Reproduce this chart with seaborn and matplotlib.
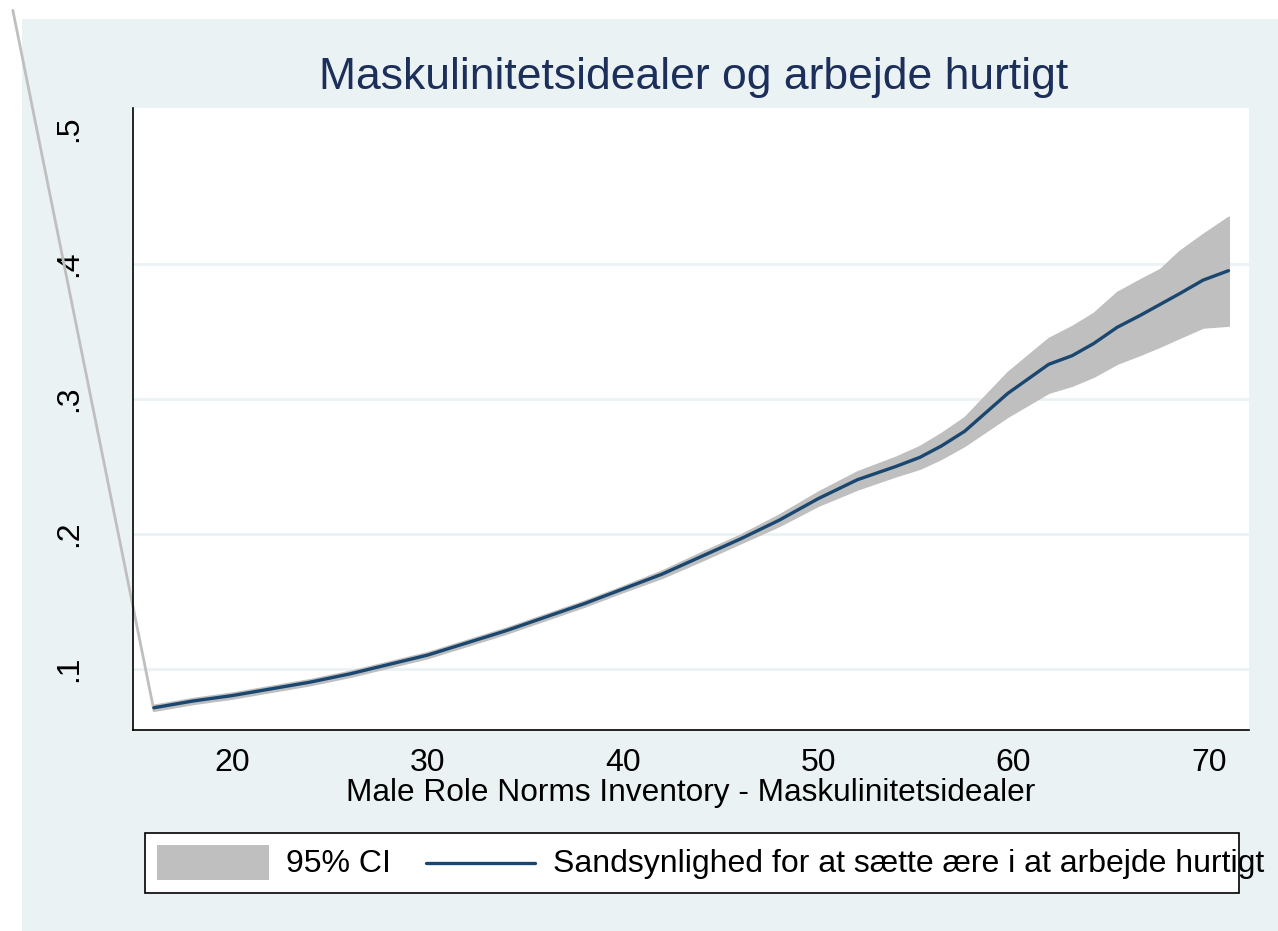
import matplotlib
matplotlib.use("Agg")
import matplotlib.pyplot as plt
from matplotlib.patches import Rectangle
from matplotlib.lines import Line2D
import numpy as np
import pandas as pd
import seaborn as sns

sns.set_style("white")
plt.rcParams['font.family'] = ['Liberation Sans', 'DejaVu Sans']
plt.rcParams['text.color'] = 'black'

# MRNI score (x) and predicted probability with 95% CI
mrni = [16, 17, 18, 19, 20, 22, 24, 26, 28, 30, 32, 34, 36, 38, 40, 42, 44, 46, 48,
        50, 52, 54, 55.2, 56.3, 57.5, 59.7, 61.8, 63, 64.1, 65.3, 66.5, 67.5, 68.5,
        69.7, 71]
prob = [0.071, 0.0735, 0.076, 0.078, 0.080, 0.085, 0.090, 0.096, 0.103, 0.110,
        0.119, 0.128, 0.138, 0.148, 0.159, 0.170, 0.183, 0.196, 0.210, 0.226,
        0.240, 0.250, 0.2566, 0.265, 0.276, 0.304, 0.3256, 0.332, 0.341, 0.353,
        0.362, 0.370, 0.378, 0.388, 0.395]
ci_lo = [0.069, 0.0715, 0.074, 0.076, 0.078, 0.083, 0.088, 0.094, 0.101, 0.108,
         0.117, 0.126, 0.136, 0.146, 0.157, 0.1675, 0.180, 0.193, 0.206, 0.221,
         0.233, 0.243, 0.2484, 0.2558, 0.2655, 0.287, 0.3048, 0.310, 0.3167,
         0.3263, 0.333, 0.339, 0.3455, 0.3531, 0.3545]
ci_hi = [0.073, 0.0755, 0.078, 0.080, 0.082, 0.087, 0.092, 0.098, 0.105, 0.112,
         0.121, 0.130, 0.140, 0.150, 0.161, 0.1725, 0.186, 0.199, 0.214, 0.231,
         0.246, 0.257, 0.2648, 0.2744, 0.2863, 0.3197, 0.3449, 0.3538, 0.3635,
         0.379, 0.3885, 0.396, 0.4095, 0.422, 0.4347]
# stray edge of the CI polygon that runs out of the plot (Stata artefact)
stray_x = [16, 8.78]
stray_y = [0.069, 0.588]

xticks = [20, 30, 40, 50, 60, 70]
yticks = [0.1, 0.2, 0.3, 0.4, 0.5]
ylabels = [".1", ".2", ".3", ".4", ".5"]

title = "Maskulinitetsidealer og arbejde hurtigt"
xlabel = "Male Role Norms Inventory - Maskulinitetsidealer"
leg_ci = "95% CI"
leg_line = "Sandsynlighed for at sætte ære i at arbejde hurtigt"

bg = "#EAF2F3"
navy = "#1A476F"
ci_col = "#BFBFBF"

W, H = 1278, 931
fig = plt.figure(figsize=(W / 100, H / 100), dpi=100)
fig.patch.set_facecolor("white")

def fx(px):
    return px / W

def fy(py):
    return 1 - py / H

# graph region
fig.add_artist(Rectangle((fx(22), 0), 1 - fx(22), fy(19), transform=fig.transFigure,
                         facecolor=bg, edgecolor="none", zorder=-5))

ax = fig.add_axes([fx(133), fy(730), fx(1249) - fx(133), fy(108) - fy(730)])
ax.set_facecolor("white")

df = pd.DataFrame({"x": mrni, "p": prob, "lo": ci_lo, "hi": ci_hi})

for t in yticks[:-1]:
    ax.axhline(t, color=bg, lw=2, zorder=0)

ax.fill_between(df["x"], df["lo"], df["hi"], color=ci_col, edgecolor=ci_col,
                lw=1.5, zorder=1)
ax.plot(stray_x, stray_y, color=ci_col, lw=2, clip_on=False, zorder=1)
sns.lineplot(data=df, x="x", y="p", ax=ax, color=navy, lw=2.4, zorder=2)

ax.set_xlim(14.93, 72.05)
ax.set_ylim(0.0545, 0.5156)
ax.set_xticks(xticks)
ax.set_yticks(yticks)
ax.set_yticklabels(ylabels, rotation=90, va="center")
ax.tick_params(axis="both", direction="out", length=8, width=1.2, color="black",
               labelsize=23, labelcolor="black")
ax.tick_params(axis="x", pad=5)
ax.tick_params(axis="y", pad=27)
for s in ["top", "right"]:
    ax.spines[s].set_visible(False)
for s in ["left", "bottom"]:
    ax.spines[s].set_color("black")
    ax.spines[s].set_linewidth(1.2)
ax.set_xlabel(xlabel, fontsize=22.8, labelpad=0, color="black")
ax.set_ylabel("")

fig.text(fx(694), fy(78), title, ha="center", va="center", fontsize=32,
         color="#1C2E5A")

# legend box
fig.add_artist(Rectangle((fx(145), fy(893)), fx(1239) - fx(145), fy(833) - fy(893),
                         transform=fig.transFigure, facecolor="white",
                         edgecolor="black", lw=1.2, zorder=3))
fig.add_artist(Rectangle((fx(157), fy(880)), fx(269) - fx(157), fy(845) - fy(880),
                         transform=fig.transFigure, facecolor=ci_col,
                         edgecolor="none", zorder=4))
fig.text(fx(286), fy(864), leg_ci, ha="left", va="center", fontsize=23, zorder=5)
fig.add_artist(Line2D([fx(426), fx(535)], [fy(863), fy(863)], transform=fig.transFigure,
                      color=navy, lw=2.4, zorder=4))
fig.text(fx(553), fy(864), leg_line, ha="left", va="center", fontsize=23, zorder=5)

fig.savefig("out.png", dpi=100)
